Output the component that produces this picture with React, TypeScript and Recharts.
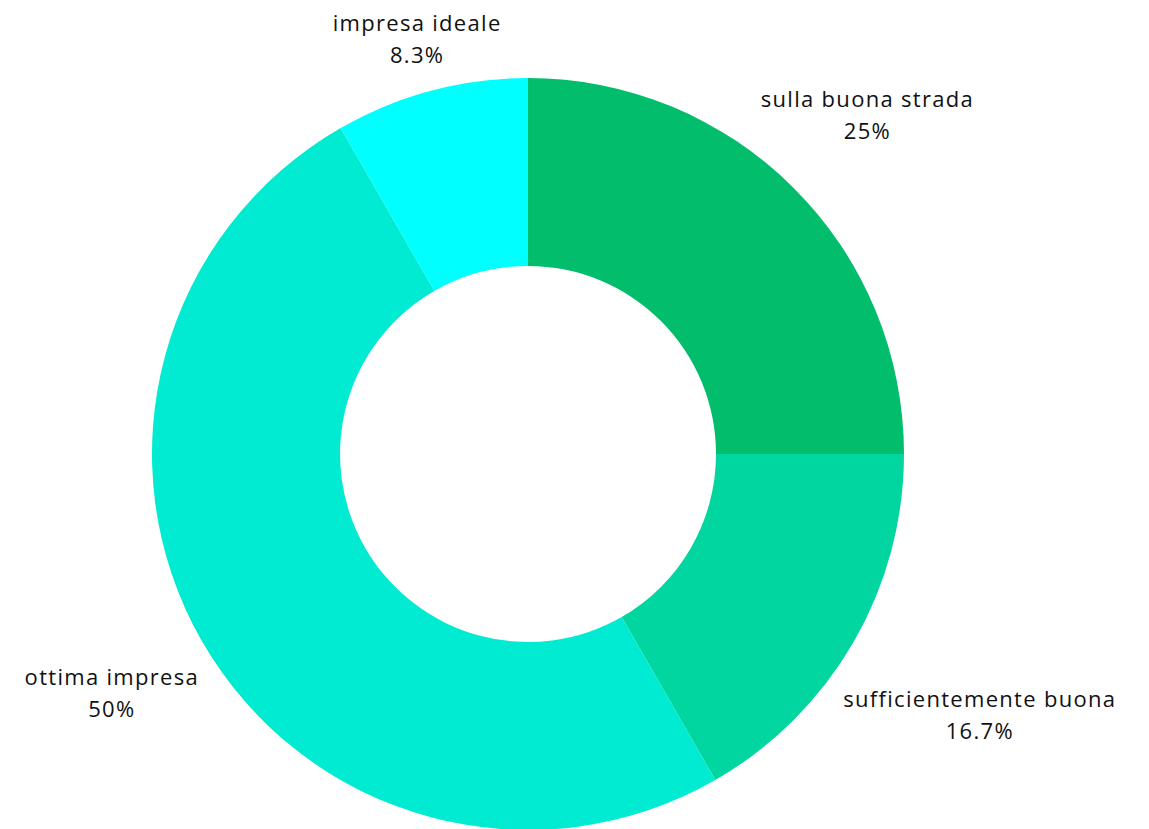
import { PieChart, Pie, Cell } from 'recharts';

/* data */
const categories = ['sulla buona strada', 'sufficientemente buona', 'ottima impresa', 'impresa ideale'];
const shares = [25, 16.7, 50, 8.3];
const shareLabels = ['25%', '16.7%', '50%', '8.3%'];

/* design tokens */
const COLORS = ['#02BD6B', '#01D6A0', '#00EBD1', '#00FFFF'];
const TEXT = '#111111';
const FONT = "'Open Sans', sans-serif";
const RADIAN = Math.PI / 180;
// label distance from centre, per slice
const LABEL_RADIUS = [480, 522, 480, 430];

const chartData = categories.map((name, i) => ({
  name,
  value: shares[i],
  label: shareLabels[i],
}));

function SliceLabel(props: any) {
  const { cx, cy, midAngle, index } = props;
  const r = LABEL_RADIUS[index] ?? 480;
  const x = cx + r * Math.cos(-midAngle * RADIAN);
  const y = cy + r * Math.sin(-midAngle * RADIAN);
  return (
    <text
      x={x}
      y={y}
      textAnchor="middle"
      fill={TEXT}
      fontFamily={FONT}
      fontSize={22}
      fontWeight={500}
      letterSpacing={1.3}
    >
      <tspan x={x} dy={-8}>{chartData[index].name}</tspan>
      <tspan x={x} dy={32}>{chartData[index].label}</tspan>
    </text>
  );
}

export default function App() {
  return (
    <div style={{ position: 'absolute', left: 0, top: 0, background: '#fff' }}>
      <PieChart width={1149} height={829} margin={{ top: 0, right: 0, bottom: 0, left: 0 }}>
        <Pie
          data={chartData}
          dataKey="value"
          nameKey="name"
          cx={528}
          cy={454}
          innerRadius={188}
          outerRadius={376}
          startAngle={90}
          endAngle={-270}
          stroke="none"
          labelLine={false}
          label={SliceLabel}
          isAnimationActive={false}
        >
          {chartData.map((_, i) => (
            <Cell key={i} fill={COLORS[i]} />
          ))}
        </Pie>
      </PieChart>
    </div>
  );
}
